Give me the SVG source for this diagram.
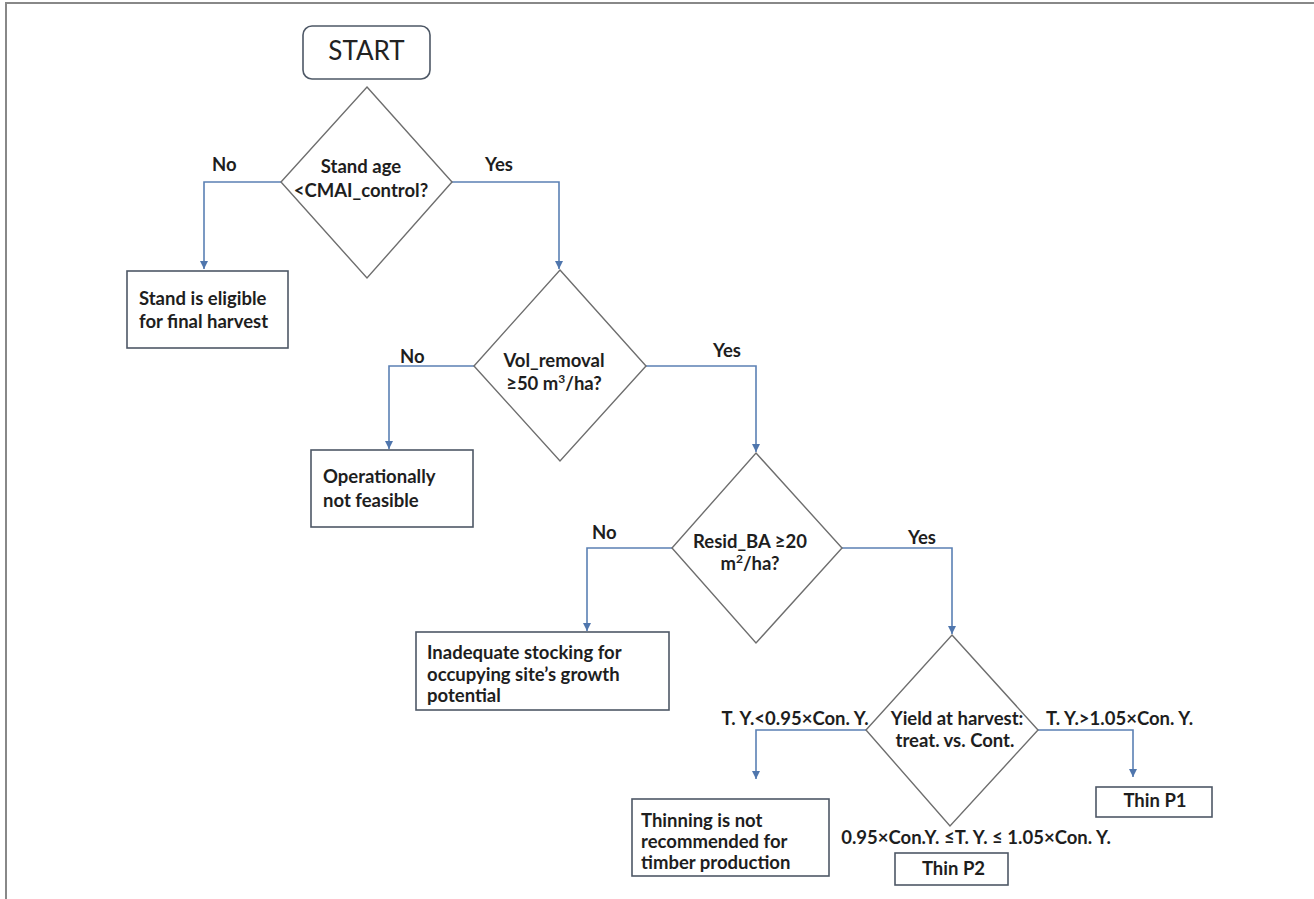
<svg xmlns="http://www.w3.org/2000/svg" width="1314" height="899" viewBox="0 0 1314 899">
<defs>
<style>
.t{font-family:Lato,"Liberation Sans",sans-serif;font-weight:bold;font-size:18.5px;fill:#1e1e1e}
.tc{text-anchor:middle}
.st{font-family:Lato,"Liberation Sans",sans-serif;font-size:26px;fill:#222}
.dia{fill:#fff;stroke:#6e6e6e;stroke-width:1.4}
.box{fill:#fff;stroke:#4e5866;stroke-width:1.6}
.con{fill:none;stroke:#5b80b4;stroke-width:1.6}
</style>
<marker id="ad" markerUnits="userSpaceOnUse" markerWidth="10" markerHeight="10" viewBox="0 0 10 10" refX="5" refY="9" orient="0">
<path d="M1,1 L9,1 L5,9 Z" fill="#4f76ad"/>
</marker>
</defs>
<rect x="0" y="0" width="1314" height="899" fill="#fff"/>
<line x1="5" y1="3" x2="1314" y2="3" stroke="#888" stroke-width="2"/>
<line x1="6" y1="2" x2="6" y2="899" stroke="#888" stroke-width="2"/>

<g id="connectors">
<path class="con" d="M281,182 H204 V269" marker-end="url(#ad)"/>
<path class="con" d="M452,182 H559 V269" marker-end="url(#ad)"/>
<path class="con" d="M474,366 H389 V449" marker-end="url(#ad)"/>
<path class="con" d="M646,366 H756 V452" marker-end="url(#ad)"/>
<path class="con" d="M672,548 H587 V631" marker-end="url(#ad)"/>
<path class="con" d="M842,548 H952 V634" marker-end="url(#ad)"/>
<path class="con" d="M867,730 H756 V779" marker-end="url(#ad)"/>
<path class="con" d="M1038,730 H1133 V777" marker-end="url(#ad)"/>
</g>

<g id="start">
<rect class="box" x="303" y="26" width="127" height="53" rx="9" stroke="#6b7888"/>
<text class="st tc" x="366.5" y="60">START</text>
</g>

<g id="d1">
<polygon class="dia" points="367,87 452,182 367,278 281,182"/>
<text class="t tc" x="361" y="173">Stand age</text>
<text class="t tc" x="361" y="197">&lt;CMAI_control?</text>
</g>
<g id="l-no1"><text class="t" x="212" y="171">No</text></g>
<g id="l-yes1"><text class="t" x="485" y="171">Yes</text></g>

<g id="b1">
<rect class="box" x="127" y="271" width="161" height="77"/>
<text class="t" x="139" y="305">Stand is eligible</text>
<text class="t" x="139" y="328">for final harvest</text>
</g>

<g id="d2">
<polygon class="dia" points="560,270 646,366 560,461 474,366"/>
<text class="t tc" x="554" y="367">Vol_removal</text>
<text class="t tc" x="554" y="390">≥50 m<tspan font-size="12" dy="-7">3</tspan><tspan dy="7">/ha?</tspan></text>
</g>
<g id="l-no2"><text class="t" x="400" y="363">No</text></g>
<g id="l-yes2"><text class="t" x="713" y="357">Yes</text></g>

<g id="b2">
<rect class="box" x="311" y="450" width="162" height="77"/>
<text class="t" x="323" y="483">Operationally</text>
<text class="t" x="323" y="507">not feasible</text>
</g>

<g id="d3">
<polygon class="dia" points="756,453 842,548 756,643 672,548"/>
<text class="t tc" x="750" y="548">Resid_BA ≥20</text>
<text class="t tc" x="750" y="570">m<tspan font-size="12" dy="-7">2</tspan><tspan dy="7">/ha?</tspan></text>
</g>
<g id="l-no3"><text class="t" x="592" y="539">No</text></g>
<g id="l-yes3"><text class="t" x="908" y="544">Yes</text></g>

<g id="b3">
<rect class="box" x="416" y="632" width="253" height="78"/>
<text class="t" x="427" y="659">Inadequate stocking for</text>
<text class="t" x="427" y="681">occupying site’s growth</text>
<text class="t" x="427" y="702">potential</text>
</g>

<g id="d4">
<polygon class="dia" points="952,635 1038,730 950,826 866,730"/>
<text class="t tc" x="957" y="725">Yield at harvest:</text>
<text class="t tc" x="955" y="747">treat. vs. Cont.</text>
</g>
<g id="l-left4"><text class="t tc" x="795" y="725">T. Y.&lt;0.95×Con. Y.</text></g>
<g id="l-right4"><text class="t tc" x="1119.5" y="725">T. Y.&gt;1.05×Con. Y.</text></g>
<g id="l-mid4"><text class="t tc" x="976" y="844" font-size="17.5">0.95×Con.Y. ≤T. Y. ≤ 1.05×Con. Y.</text></g>

<g id="b4">
<rect class="box" x="632" y="799" width="197" height="77"/>
<text class="t" x="641" y="827">Thinning is not</text>
<text class="t" x="641" y="848">recommended for</text>
<text class="t" x="641" y="869">timber production</text>
</g>

<g id="p1">
<rect class="box" x="1096" y="787" width="116" height="30"/>
<text class="t tc" x="1155" y="807">Thin P1</text>
</g>
<g id="p2">
<rect class="box" x="895" y="853" width="113" height="32"/>
<text class="t tc" x="953.5" y="875">Thin P2</text>
</g>
</svg>
